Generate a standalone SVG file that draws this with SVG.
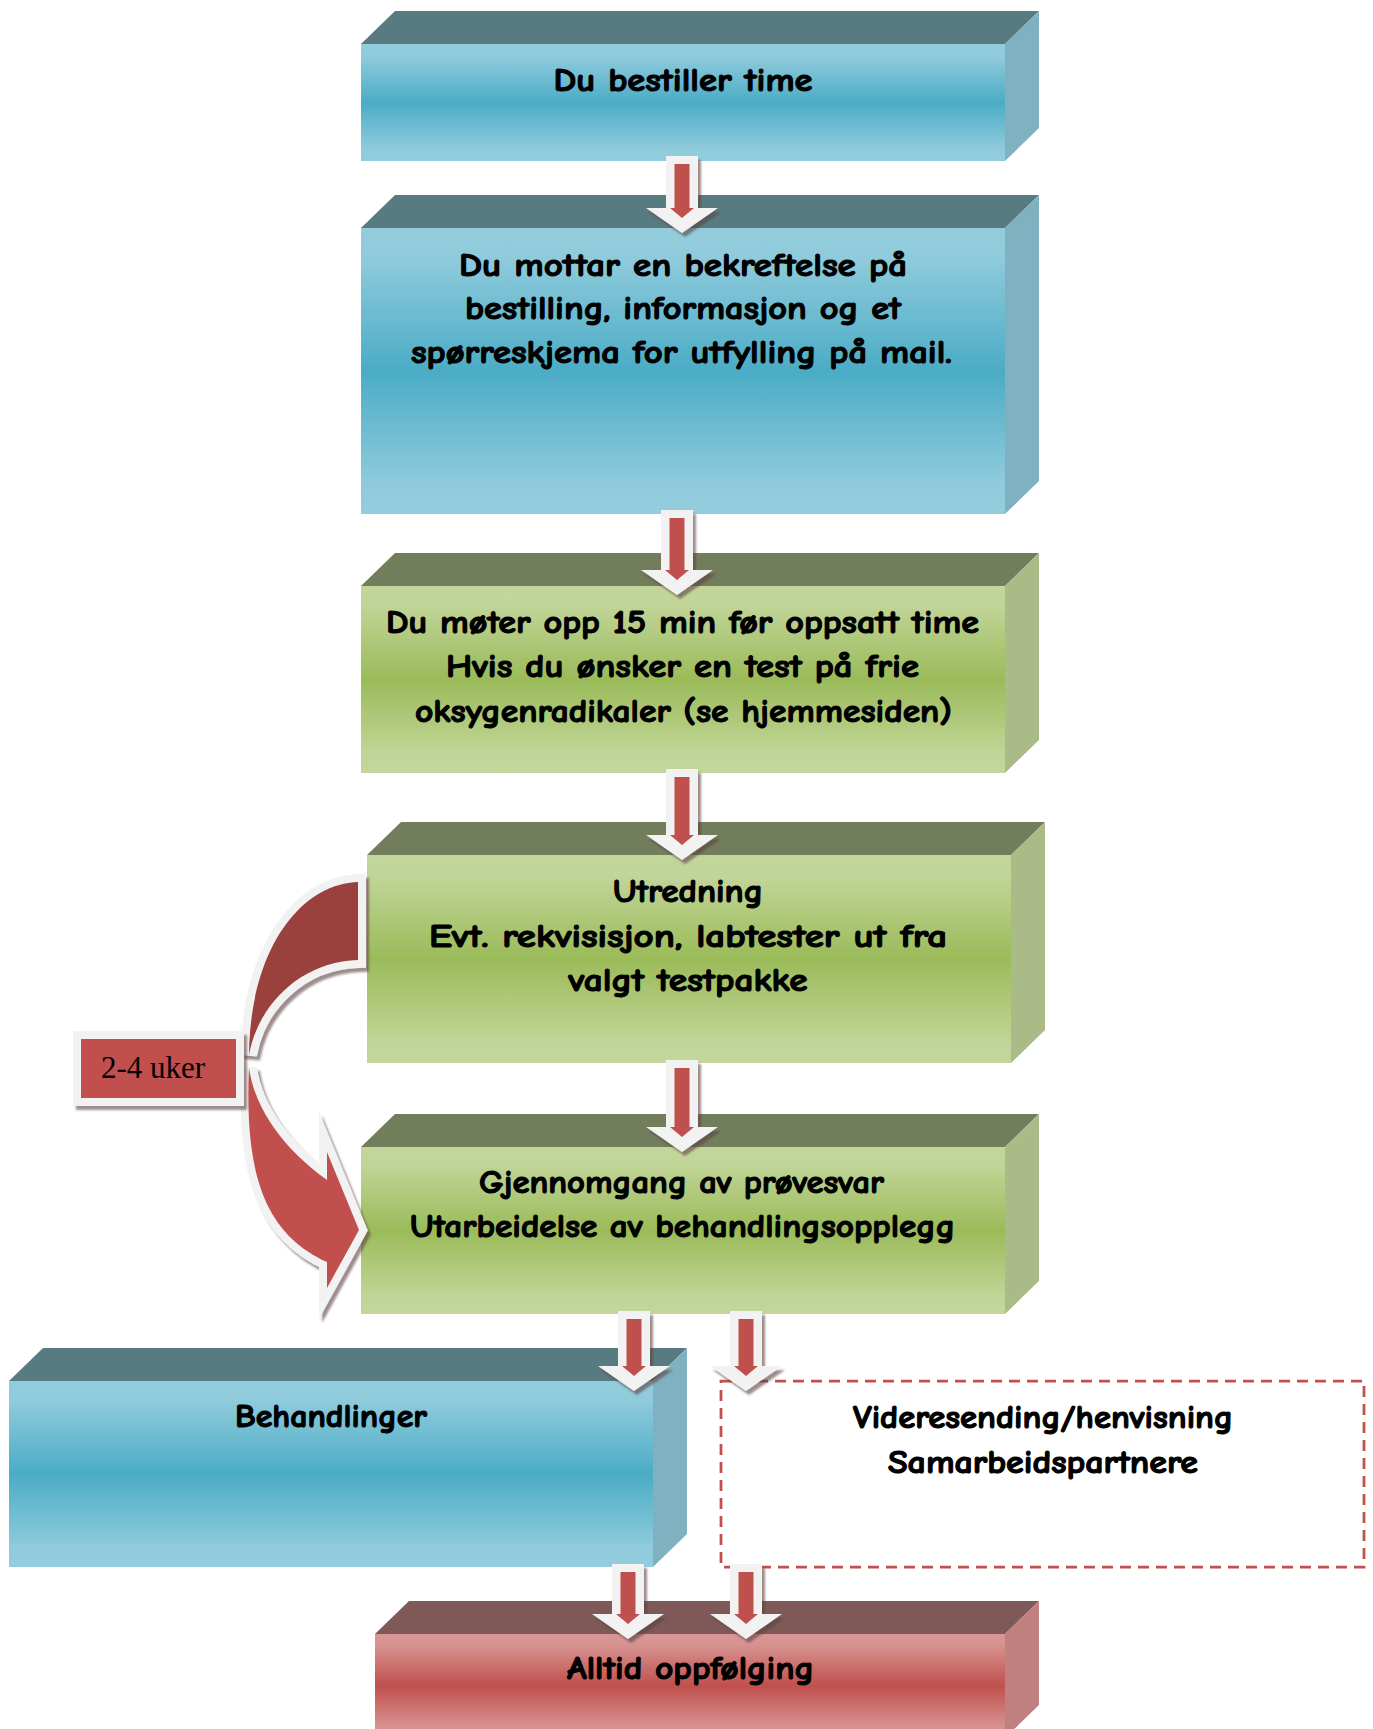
<svg xmlns="http://www.w3.org/2000/svg" width="1373" height="1729" viewBox="0 0 1373 1729">
<defs>
<linearGradient id="gBlue" x1="0" y1="0" x2="0" y2="1">
<stop offset="0" stop-color="#93CDDD"/><stop offset="0.1" stop-color="#90CBDC"/><stop offset="0.5" stop-color="#4BACC6"/><stop offset="0.9" stop-color="#90CBDC"/><stop offset="1" stop-color="#93CDDD"/>
</linearGradient>
<linearGradient id="gGreen" x1="0" y1="0" x2="0" y2="1">
<stop offset="0" stop-color="#C3D69B"/><stop offset="0.1" stop-color="#C1D598"/><stop offset="0.5" stop-color="#9BBB59"/><stop offset="0.9" stop-color="#C1D598"/><stop offset="1" stop-color="#C3D69B"/>
</linearGradient>
<linearGradient id="gRed" x1="0" y1="0" x2="0" y2="1">
<stop offset="0" stop-color="#D99694"/><stop offset="0.1" stop-color="#D79391"/><stop offset="0.5" stop-color="#C0504D"/><stop offset="0.9" stop-color="#D79391"/><stop offset="1" stop-color="#D99694"/>
</linearGradient>
<filter id="shadow" x="-30%" y="-30%" width="160%" height="160%">
<feDropShadow dx="3" dy="4" stdDeviation="1" flood-color="#5C3F3F" flood-opacity="0.6"/>
</filter>
</defs>
<style>
.tb{fill:#587A81}.sb{fill:#7FB1C0}.fb{fill:url(#gBlue)}
.tg{fill:#717D5B}.sg{fill:#AABB88}.fg{fill:url(#gGreen)}
.tr{fill:#7F5958}.sr{fill:#C08080}.fr{fill:url(#gRed)}
.t{font-family:'Comic Sans MS','Comic Neue','Noto Sans',sans-serif;font-weight:bold;font-size:32px;fill:#000;stroke:#000;stroke-width:1.1px;text-anchor:middle}
.aw{fill:#F2F2F2;filter:url(#shadow)}
.ar{fill:#C0504D}
.lobe{stroke:#F2F2F2;stroke-width:16;stroke-linejoin:miter;stroke-miterlimit:10;paint-order:stroke;filter:url(#shadow)}
.dash{fill:#FFFFFF;stroke:#C0504D;stroke-width:2.75;stroke-dasharray:11 7}
</style>

<g id="node-bestiller">
<polygon class="tb" points="361,44 395,11 1039,11 1005,44"/>
<polygon class="sb" points="1005,44 1039,11 1039,128 1005,161"/>
<rect class="fb" x="361" y="44" width="644" height="117"/>
<text class="t" x="683" y="91" textLength="259" lengthAdjust="spacingAndGlyphs">Du bestiller time</text>
</g>

<g id="node-bekreftelse">
<polygon class="tb" points="361,228 395,195 1039,195 1005,228"/>
<polygon class="sb" points="1005,228 1039,195 1039,481 1005,514"/>
<rect class="fb" x="361" y="228" width="644" height="286"/>
<text class="t" x="683" y="276" textLength="448" lengthAdjust="spacingAndGlyphs">Du mottar en bekreftelse på</text>
<text class="t" x="683" y="319" textLength="436" lengthAdjust="spacingAndGlyphs">bestilling, informasjon og et</text>
<text class="t" x="681.5" y="363" textLength="541" lengthAdjust="spacingAndGlyphs">spørreskjema for utfylling på mail.</text>
</g>

<g id="node-moter">
<polygon class="tg" points="361,586 395,553 1039,553 1005,586"/>
<polygon class="sg" points="1005,586 1039,553 1039,740 1005,773"/>
<rect class="fg" x="361" y="586" width="644" height="187"/>
<text class="t" x="682.5" y="633" textLength="593" lengthAdjust="spacingAndGlyphs">Du møter opp 15 min før oppsatt time</text>
<text class="t" x="682.5" y="677" textLength="473" lengthAdjust="spacingAndGlyphs">Hvis du ønsker en test på frie</text>
<text class="t" x="683.5" y="722" textLength="537" lengthAdjust="spacingAndGlyphs">oksygenradikaler (se hjemmesiden)</text>
</g>

<g id="node-utredning">
<polygon class="tg" points="367,855 401,822 1045,822 1011,855"/>
<polygon class="sg" points="1011,855 1045,822 1045,1030 1011,1063"/>
<rect class="fg" x="367" y="855" width="644" height="208"/>
<text class="t" x="688" y="902" textLength="150" lengthAdjust="spacingAndGlyphs">Utredning</text>
<text class="t" x="688" y="947" textLength="518" lengthAdjust="spacingAndGlyphs">Evt. rekvisisjon, labtester ut fra</text>
<text class="t" x="688" y="991" textLength="239" lengthAdjust="spacingAndGlyphs">valgt testpakke</text>
</g>

<g id="node-gjennomgang">
<polygon class="tg" points="361,1147 395,1114 1039,1114 1005,1147"/>
<polygon class="sg" points="1005,1147 1039,1114 1039,1281 1005,1314"/>
<rect class="fg" x="361" y="1147" width="644" height="167"/>
<text class="t" x="681.5" y="1193" textLength="405" lengthAdjust="spacingAndGlyphs">Gjennomgang av prøvesvar</text>
<text class="t" x="682.5" y="1237" textLength="545" lengthAdjust="spacingAndGlyphs">Utarbeidelse av behandlingsopplegg</text>
</g>

<g id="node-behandlinger">
<polygon class="tb" points="9,1381 43,1348 687,1348 653,1381"/>
<polygon class="sb" points="653,1381 687,1348 687,1534 653,1567"/>
<rect class="fb" x="9" y="1381" width="644" height="186"/>
<text class="t" x="331" y="1427" textLength="192" lengthAdjust="spacingAndGlyphs">Behandlinger</text>
</g>

<g id="node-videresending">
<rect class="dash" x="721" y="1381" width="643" height="186"/>
<text class="t" x="1043" y="1428" textLength="380" lengthAdjust="spacingAndGlyphs">Videresending/henvisning</text>
<text class="t" x="1043" y="1473" textLength="310" lengthAdjust="spacingAndGlyphs">Samarbeidspartnere</text>
</g>

<g id="node-oppfolging">
<polygon class="tr" points="375,1634 409,1601 1039,1601 1005,1634"/>
<polygon class="sr" points="1005,1634 1039,1601 1039,1705 1005,1738"/>
<rect class="fr" x="375" y="1634" width="630" height="104"/>
<text class="t" x="690.5" y="1679" textLength="247" lengthAdjust="spacingAndGlyphs">Alltid oppfølging</text>
</g>

<g id="connectors">
<g id="a1"><polygon class="aw" points="666,156 698,156 698,208 718,208 682,233 646,208 666,208"/><polygon class="ar" points="674.5,164 689.5,164 689.5,208 694,208 682,218 670,208 674.5,208"/></g>
<g id="a2"><polygon class="aw" points="661,510 693,510 693,570 713,570 677,595 641,570 661,570"/><polygon class="ar" points="669.5,518 684.5,518 684.5,570 689,570 677,580 665,570 669.5,570"/></g>
<g id="a3"><polygon class="aw" points="666,769 698,769 698,835 718,835 682,860 646,835 666,835"/><polygon class="ar" points="674.5,777 689.5,777 689.5,835 694,835 682,845 670,835 674.5,835"/></g>
<g id="a4"><polygon class="aw" points="666,1060 698,1060 698,1127 718,1127 682,1152 646,1127 666,1127"/><polygon class="ar" points="674.5,1068 689.5,1068 689.5,1127 694,1127 682,1137 670,1127 674.5,1127"/></g>
<g id="a5"><polygon class="aw" points="618,1311 650,1311 650,1366 670,1366 634,1391 598,1366 618,1366"/><polygon class="ar" points="626.5,1319 641.5,1319 641.5,1366 646,1366 634,1376 622,1366 626.5,1366"/></g>
<g id="a6"><polygon class="aw" points="730,1311 762,1311 762,1366 782,1366 746,1391 710,1366 730,1366"/><polygon class="ar" points="738.5,1319 753.5,1319 753.5,1366 758,1366 746,1376 734,1366 738.5,1366"/></g>
<g id="a7"><polygon class="aw" points="612,1564 644,1564 644,1614 664,1614 628,1639 592,1614 612,1614"/><polygon class="ar" points="620.5,1572 635.5,1572 635.5,1614 640,1614 628,1624 616,1614 620.5,1614"/></g>
<g id="a8"><polygon class="aw" points="730,1564 762,1564 762,1614 782,1614 746,1639 710,1614 730,1614"/><polygon class="ar" points="738.5,1572 753.5,1572 753.5,1614 758,1614 746,1624 734,1614 738.5,1614"/></g>
<g id="curved-arrow">
<path class="lobe" fill="#C0504D" d="M249,1068 C244,1180 268,1235 327,1262 L327,1288 L359,1230 L327,1152 L327,1180 C285,1150 255,1110 249,1068 Z"/>
<path class="lobe" fill="#9A403E" d="M358,882 C300,884 250,950 249,1055 C258,1005 300,962 358,960 Z"/>
</g>
</g>

<g id="label-2-4-uker">
<rect x="77" y="1035" width="163" height="67" fill="#C0504D" stroke="#F2F2F2" stroke-width="8" filter="url(#shadow)"/>
<text x="101" y="1078" font-family="'Liberation Serif','Times New Roman',serif" font-size="31" fill="#000">2-4 uker</text>
</g>
</svg>
